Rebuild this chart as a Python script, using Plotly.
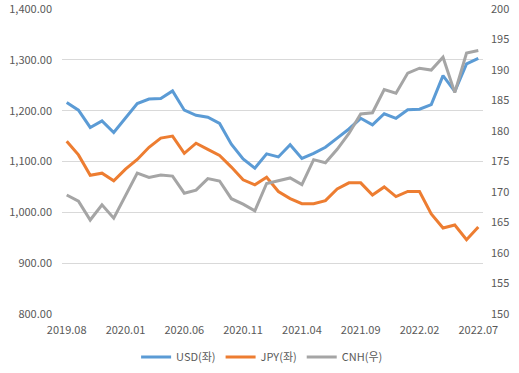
import plotly.graph_objects as go

months = ["2019.08","2019.09","2019.10","2019.11","2019.12","2020.01","2020.02","2020.03","2020.04",
          "2020.05","2020.06","2020.07","2020.08","2020.09","2020.10","2020.11","2020.12","2021.01",
          "2021.02","2021.03","2021.04","2021.05","2021.06","2021.07","2021.08","2021.09","2021.10",
          "2021.11","2021.12","2022.01","2022.02","2022.03","2022.04","2022.05","2022.06","2022.07"]

usd = [1216,1201,1167,1180,1157,1185,1214,1223,1224,1239,1201,1191,1187,1175,1134,1105,1087,1115,
       1109,1133,1106,1116,1128,1146,1164,1185,1172,1194,1185,1202,1203,1212,1269,1238,1292,1303]
jpy = [1140,1113,1073,1077,1062,1085,1104,1128,1146,1150,1116,1136,1124,1112,1089,1064,1054,1069,
       1041,1027,1017,1017,1023,1046,1058,1058,1034,1050,1031,1041,1041,997,969,975,946,971]
cnh = [169.5,168.5,165.4,167.9,165.7,169.4,173.1,172.4,172.8,172.6,169.8,170.3,172.2,171.8,168.9,
       168.0,166.9,171.4,171.9,172.3,171.2,175.3,174.8,177.0,179.6,182.8,183.0,186.8,186.2,189.5,
       190.3,190.0,192.1,186.3,192.8,193.2]

left_ticks = [800, 900, 1000, 1100, 1200, 1300, 1400]
right_ticks = [150, 155, 160, 165, 170, 175, 180, 185, 190, 195, 200]

series_names = ["USD(좌)", "JPY(좌)", "CNH(우)"]
colors = ["#5B9BD5", "#ED7D31", "#A5A5A5"]

tick_idx = list(range(0, len(months), 5))
xs = list(range(len(months)))

FONT = "Noto Sans CJK KR"
fig = go.Figure()
fig.add_trace(go.Scatter(x=xs, y=usd, name=series_names[0], mode="lines",
                         line=dict(color=colors[0], width=3), yaxis="y"))
fig.add_trace(go.Scatter(x=xs, y=jpy, name=series_names[1], mode="lines",
                         line=dict(color=colors[1], width=3), yaxis="y"))
fig.add_trace(go.Scatter(x=xs, y=cnh, name=series_names[2], mode="lines",
                         line=dict(color=colors[2], width=3), yaxis="y2"))

fig.update_layout(
    width=519, height=373,
    margin=dict(l=62, r=36, t=9, b=59),
    paper_bgcolor="white", plot_bgcolor="white",
    font=dict(family=FONT, size=11, color="#595959"),
    showlegend=True,
    legend=dict(orientation="h", xref="container", yref="container",
                x=0.505, xanchor="center", y=1 - 357 / 373, yanchor="middle",
                font=dict(size=11, color="#595959"), itemwidth=30, bgcolor="rgba(0,0,0,0)"),
    xaxis=dict(range=[-0.4, len(months) - 1 + 0.4], tickmode="array", tickvals=tick_idx,
               ticktext=[months[i] for i in tick_idx], showgrid=False, zeroline=False,
               showline=False, ticks="", automargin=False, ticklabelstandoff=8,
               ticklabeloverflow="allow", tickfont=dict(size=11, color="#595959")),
    yaxis=dict(range=[799.9, 1400.1], tickmode="array", tickvals=left_ticks,
               ticktext=[f"{v:,.2f}" for v in left_ticks], showgrid=True,
               gridcolor="#D9D9D9", gridwidth=1, zeroline=False, showline=False, ticks="",
               automargin=False, ticklabeloverflow="allow", ticklabelstandoff=9,
               tickfont=dict(size=11, color="#595959")),
    yaxis2=dict(range=[149.99, 200.01], tickmode="array", tickvals=right_ticks,
                ticktext=[str(v) for v in right_ticks], overlaying="y", side="right",
                showgrid=False, zeroline=False, showline=False, ticks="", automargin=False,
                ticklabeloverflow="allow", ticklabelstandoff=7,
                tickfont=dict(size=11, color="#595959")),
)

fig.write_html("out.html", config={"displayModeBar": False},
               post_script="document.body.style.margin='0';document.body.style.overflow='hidden';")
